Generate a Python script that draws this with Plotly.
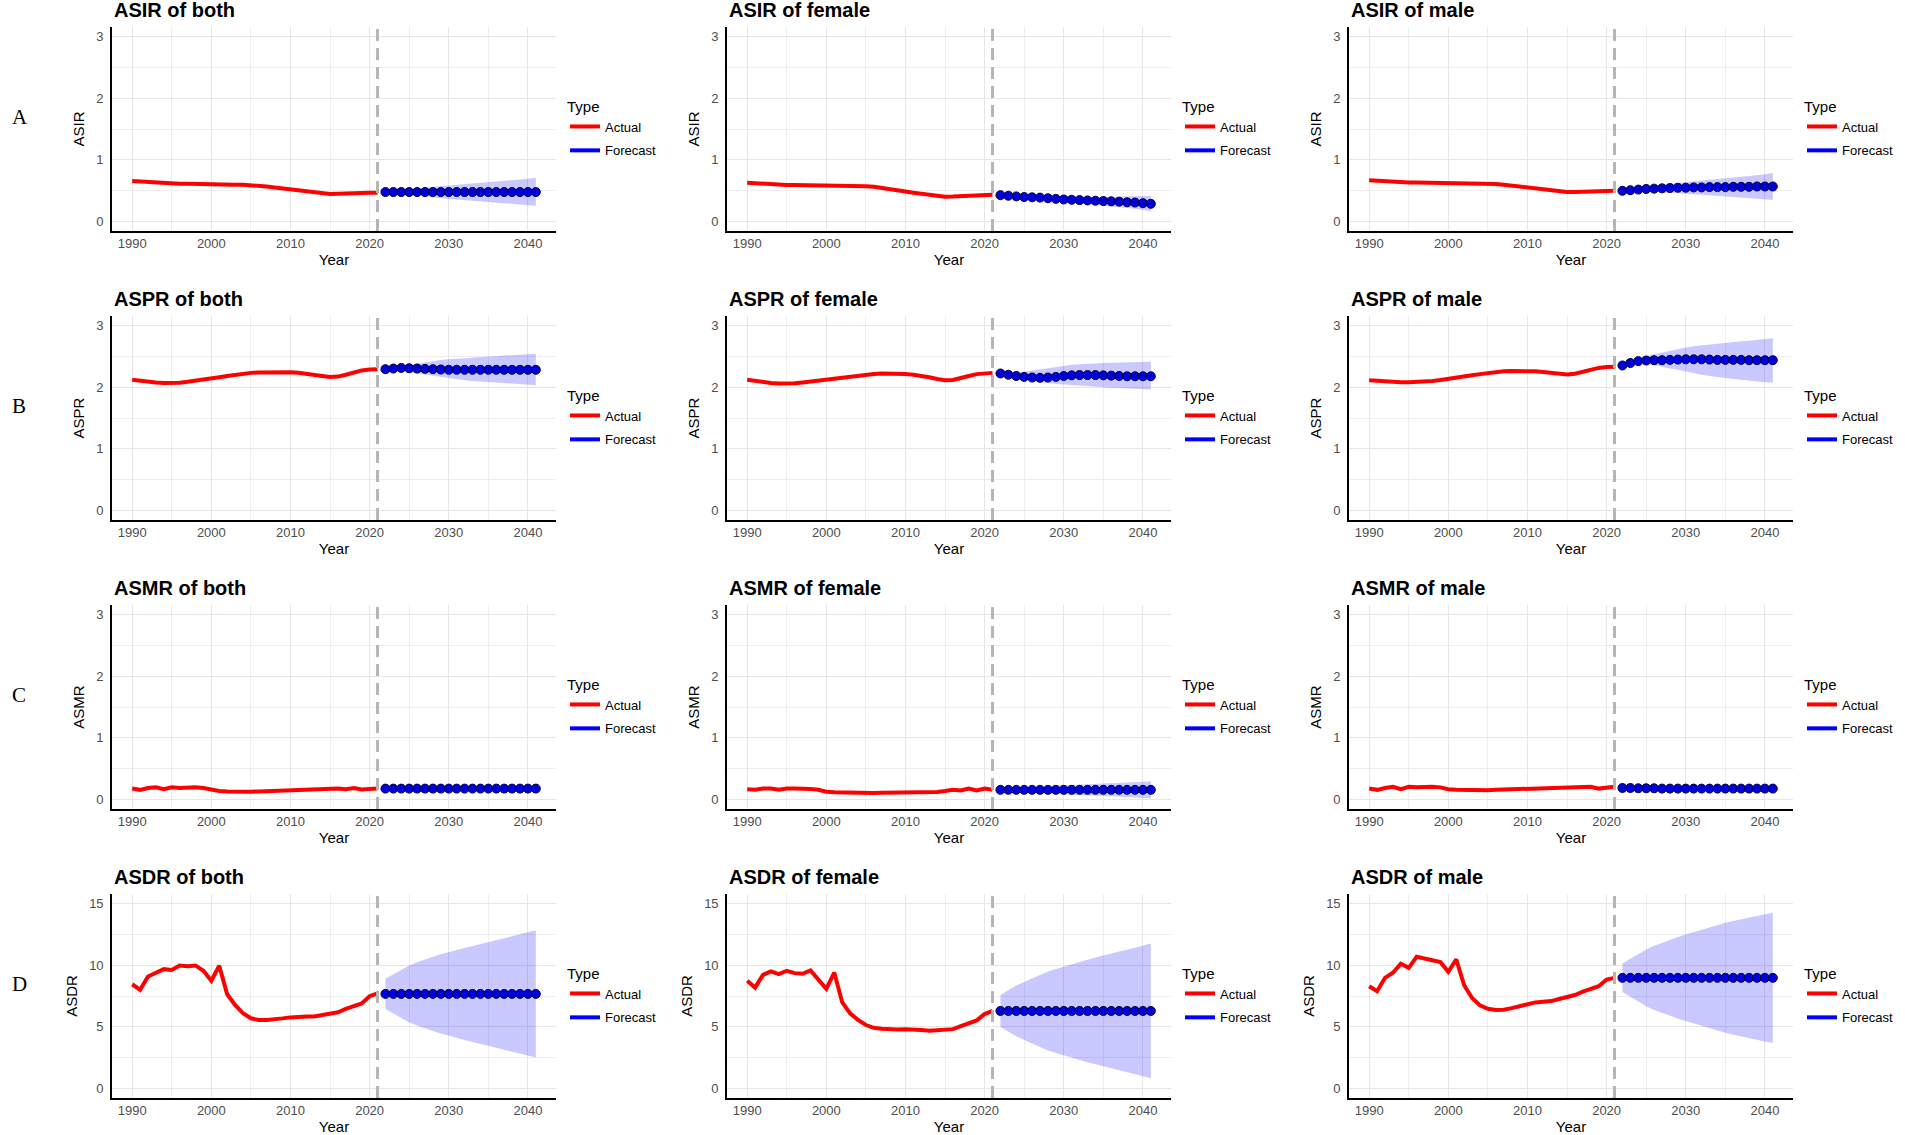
import plotly.graph_objects as go
from plotly.subplots import make_subplots

years_actual = list(range(1990, 2022))
years_forecast = list(range(2022, 2042))

# ---- ASIR ----
asir_both_actual = [0.66, 0.65, 0.64, 0.63, 0.625, 0.62, 0.615, 0.615, 0.61, 0.61,
                    0.61, 0.61, 0.605, 0.60, 0.60, 0.595, 0.585, 0.57, 0.555, 0.54,
                    0.525, 0.51, 0.49, 0.47, 0.455, 0.45, 0.452, 0.46, 0.465, 0.47,
                    0.47, 0.47]
asir_both_fc = [0.48] * 20
asir_both_up = [0.49, 0.50, 0.515, 0.53, 0.54, 0.555, 0.565, 0.575, 0.585, 0.595,
                0.605, 0.615, 0.625, 0.635, 0.645, 0.655, 0.665, 0.68, 0.695, 0.71]
asir_both_lo = [0.47, 0.455, 0.44, 0.425, 0.415, 0.40, 0.39, 0.38, 0.37, 0.36,
                0.35, 0.34, 0.33, 0.32, 0.31, 0.30, 0.29, 0.28, 0.27, 0.26]

asir_female_actual = [0.63, 0.62, 0.61, 0.605, 0.60, 0.595, 0.593, 0.592, 0.591, 0.59,
                      0.59, 0.588, 0.586, 0.583, 0.58, 0.575, 0.565, 0.55, 0.53, 0.51,
                      0.49, 0.47, 0.45, 0.43, 0.415, 0.405, 0.407, 0.415, 0.42, 0.425,
                      0.43, 0.435]
asir_female_fc = [0.43, 0.42, 0.41, 0.40, 0.395, 0.39, 0.38, 0.37, 0.36, 0.355,
                  0.35, 0.345, 0.34, 0.335, 0.33, 0.325, 0.315, 0.31, 0.30, 0.29]
asir_female_up = [0.44, 0.435, 0.43, 0.425, 0.42, 0.415, 0.41, 0.405, 0.40, 0.40,
                  0.395, 0.395, 0.395, 0.40, 0.40, 0.40, 0.405, 0.41, 0.415, 0.42]
asir_female_lo = [0.42, 0.405, 0.39, 0.375, 0.365, 0.355, 0.34, 0.33, 0.315, 0.305,
                  0.29, 0.28, 0.27, 0.26, 0.25, 0.24, 0.225, 0.21, 0.195, 0.17]

asir_male_actual = [0.67, 0.66, 0.65, 0.645, 0.64, 0.635, 0.633, 0.632, 0.631, 0.63,
                    0.63, 0.628, 0.626, 0.624, 0.622, 0.62, 0.61, 0.60, 0.585, 0.568,
                    0.55, 0.535, 0.52, 0.505, 0.49, 0.48, 0.482, 0.488, 0.493, 0.497,
                    0.50, 0.50]
asir_male_fc = [0.50, 0.51, 0.52, 0.53, 0.535, 0.54, 0.545, 0.55, 0.55, 0.555,
                0.555, 0.56, 0.56, 0.56, 0.565, 0.565, 0.565, 0.57, 0.57, 0.57]
asir_male_up = [0.51, 0.53, 0.55, 0.57, 0.585, 0.60, 0.615, 0.63, 0.64, 0.655,
                0.665, 0.68, 0.69, 0.70, 0.715, 0.725, 0.74, 0.75, 0.77, 0.79]
asir_male_lo = [0.49, 0.49, 0.49, 0.485, 0.48, 0.475, 0.47, 0.46, 0.455, 0.445,
                0.435, 0.43, 0.42, 0.41, 0.40, 0.39, 0.38, 0.37, 0.36, 0.35]

# ---- ASPR ----
aspr_both_actual = [2.12, 2.10, 2.085, 2.075, 2.068, 2.065, 2.07, 2.085, 2.10, 2.12,
                    2.14, 2.16, 2.18, 2.20, 2.215, 2.23, 2.237, 2.24, 2.242, 2.242,
                    2.24, 2.232, 2.22, 2.20, 2.18, 2.165, 2.17, 2.20, 2.24, 2.27,
                    2.285, 2.29]
aspr_both_fc = [2.29, 2.30, 2.31, 2.305, 2.30, 2.295, 2.29, 2.285, 2.28, 2.28,
                2.28, 2.28, 2.28, 2.28, 2.28, 2.28, 2.28, 2.28, 2.28, 2.28]
aspr_both_up = [2.30, 2.32, 2.35, 2.37, 2.39, 2.41, 2.425, 2.44, 2.45, 2.46,
                2.47, 2.48, 2.49, 2.495, 2.50, 2.51, 2.515, 2.52, 2.53, 2.54]
aspr_both_lo = [2.28, 2.275, 2.26, 2.24, 2.22, 2.20, 2.18, 2.16, 2.14, 2.12,
                2.11, 2.10, 2.09, 2.08, 2.075, 2.07, 2.06, 2.05, 2.04, 2.03]

aspr_female_actual = [2.12, 2.10, 2.08, 2.068, 2.06, 2.058, 2.062, 2.075, 2.09, 2.105,
                      2.12, 2.14, 2.16, 2.175, 2.19, 2.20, 2.21, 2.218, 2.22, 2.218,
                      2.21, 2.20, 2.185, 2.16, 2.13, 2.11, 2.115, 2.14, 2.18, 2.21,
                      2.225, 2.23]
aspr_female_fc = [2.22, 2.20, 2.18, 2.165, 2.155, 2.15, 2.155, 2.165, 2.18, 2.19,
                  2.195, 2.195, 2.195, 2.19, 2.185, 2.18, 2.175, 2.175, 2.175, 2.175]
aspr_female_up = [2.23, 2.23, 2.24, 2.25, 2.27, 2.29, 2.31, 2.33, 2.345, 2.36,
                  2.37, 2.38, 2.385, 2.39, 2.395, 2.40, 2.40, 2.405, 2.41, 2.41]
aspr_female_lo = [2.21, 2.18, 2.15, 2.12, 2.10, 2.08, 2.06, 2.05, 2.04, 2.03,
                  2.02, 2.01, 2.00, 1.995, 1.99, 1.985, 1.98, 1.975, 1.97, 1.96]

aspr_male_actual = [2.11, 2.10, 2.09, 2.083, 2.08, 2.08, 2.083, 2.09, 2.10, 2.115,
                    2.13, 2.15, 2.17, 2.19, 2.21, 2.23, 2.245, 2.255, 2.26, 2.262,
                    2.26, 2.255, 2.245, 2.23, 2.215, 2.205, 2.215, 2.25, 2.285, 2.31,
                    2.325, 2.33]
aspr_male_fc = [2.35, 2.39, 2.42, 2.43, 2.435, 2.435, 2.44, 2.445, 2.45, 2.45,
                2.45, 2.445, 2.44, 2.44, 2.44, 2.44, 2.435, 2.435, 2.435, 2.435]
aspr_male_up = [2.36, 2.41, 2.46, 2.50, 2.53, 2.56, 2.59, 2.62, 2.64, 2.66,
                2.675, 2.69, 2.70, 2.715, 2.73, 2.74, 2.75, 2.765, 2.78, 2.79]
aspr_male_lo = [2.34, 2.37, 2.39, 2.38, 2.35, 2.33, 2.30, 2.28, 2.25, 2.23,
                2.20, 2.18, 2.16, 2.15, 2.13, 2.12, 2.10, 2.09, 2.08, 2.07]

# ---- ASMR ----
asmr_both_actual = [0.18, 0.16, 0.19, 0.20, 0.17, 0.20, 0.19, 0.20, 0.20, 0.19,
                    0.16, 0.14, 0.135, 0.13, 0.13, 0.13, 0.135, 0.14, 0.14, 0.145,
                    0.145, 0.15, 0.15, 0.155, 0.16, 0.165, 0.18, 0.17, 0.19, 0.165,
                    0.18, 0.18]
asmr_both_fc = [0.18] * 20
asmr_both_up = [0.19, 0.19, 0.19, 0.195, 0.195, 0.195, 0.20, 0.20, 0.20, 0.20,
                0.205, 0.205, 0.205, 0.21, 0.21, 0.21, 0.21, 0.215, 0.215, 0.215]
asmr_both_lo = [0.17, 0.17, 0.17, 0.165, 0.165, 0.165, 0.16, 0.16, 0.16, 0.16,
                0.155, 0.155, 0.155, 0.15, 0.15, 0.15, 0.15, 0.145, 0.145, 0.145]

asmr_female_actual = [0.17, 0.16, 0.18, 0.18, 0.16, 0.18, 0.18, 0.18, 0.175, 0.16,
                      0.13, 0.12, 0.115, 0.11, 0.11, 0.11, 0.11, 0.112, 0.112, 0.113,
                      0.115, 0.115, 0.117, 0.12, 0.125, 0.14, 0.16, 0.15, 0.18, 0.15,
                      0.18, 0.16]
asmr_female_fc = [0.16] * 20
asmr_female_up = [0.17, 0.185, 0.195, 0.205, 0.21, 0.215, 0.22, 0.225, 0.235, 0.245,
                  0.25, 0.255, 0.26, 0.265, 0.27, 0.275, 0.28, 0.285, 0.29, 0.30]
asmr_female_lo = [0.15, 0.135, 0.125, 0.115, 0.11, 0.105, 0.10, 0.095, 0.085, 0.075,
                  0.07, 0.065, 0.06, 0.055, 0.05, 0.045, 0.04, 0.035, 0.03, 0.02]

asmr_male_actual = [0.18, 0.16, 0.19, 0.21, 0.17, 0.21, 0.20, 0.21, 0.21, 0.20,
                    0.17, 0.16, 0.155, 0.15, 0.15, 0.155, 0.16, 0.165, 0.17, 0.17,
                    0.175, 0.18, 0.185, 0.19, 0.195, 0.20, 0.21, 0.20, 0.21, 0.18,
                    0.19, 0.21]
asmr_male_fc = [0.19, 0.19, 0.185, 0.185, 0.185, 0.18, 0.18, 0.18, 0.18, 0.18,
                0.18, 0.18, 0.18, 0.18, 0.18, 0.18, 0.18, 0.18, 0.18, 0.18]
asmr_male_up = [0.195, 0.197, 0.195, 0.197, 0.199, 0.196, 0.198, 0.20, 0.201, 0.202,
                0.203, 0.204, 0.205, 0.206, 0.207, 0.207, 0.208, 0.209, 0.21, 0.21]
asmr_male_lo = [0.185, 0.183, 0.175, 0.173, 0.171, 0.164, 0.162, 0.16, 0.159, 0.158,
                0.157, 0.156, 0.155, 0.154, 0.153, 0.153, 0.152, 0.151, 0.15, 0.15]

# ---- ASDR ----
asdr_both_actual = [8.45, 8.0, 9.08, 9.4, 9.67, 9.6, 9.97, 9.9, 9.97, 9.54,
                    8.73, 9.95, 7.64, 6.78, 6.1, 5.7, 5.56, 5.56, 5.6, 5.69,
                    5.77, 5.83, 5.85, 5.85, 5.96, 6.04, 6.18, 6.45, 6.67, 6.9,
                    7.48, 7.72]
asdr_both_fc = [7.67] * 20
asdr_both_up = [8.90, 9.27, 9.62, 9.97, 10.22, 10.47, 10.67, 10.87, 11.02, 11.22,
                11.39, 11.55, 11.72, 11.87, 12.02, 12.17, 12.32, 12.47, 12.62, 12.82]
asdr_both_lo = [6.44, 6.07, 5.72, 5.37, 5.12, 4.87, 4.67, 4.47, 4.32, 4.12,
                3.95, 3.79, 3.62, 3.47, 3.32, 3.17, 3.02, 2.87, 2.72, 2.52]

asdr_female_actual = [8.73, 8.18, 9.21, 9.49, 9.27, 9.54, 9.35, 9.3, 9.57, 8.8,
                      8.08, 9.4, 7.0, 6.1, 5.56, 5.15, 4.93, 4.85, 4.8, 4.8,
                      4.82, 4.82, 4.74, 4.69, 4.74, 4.74, 4.82, 5.07, 5.28, 5.53,
                      6.04, 6.29]
asdr_female_fc = [6.29] * 20
asdr_female_up = [7.59, 7.99, 8.34, 8.64, 8.94, 9.24, 9.49, 9.69, 9.89, 10.09,
                  10.27, 10.44, 10.61, 10.79, 10.94, 11.09, 11.24, 11.39, 11.59, 11.74]
asdr_female_lo = [4.99, 4.59, 4.24, 3.94, 3.64, 3.34, 3.09, 2.89, 2.69, 2.49,
                  2.31, 2.14, 1.97, 1.79, 1.64, 1.49, 1.34, 1.19, 0.99, 0.84]

asdr_male_actual = [8.29, 7.88, 8.97, 9.38, 10.11, 9.78, 10.68, 10.54, 10.46, 10.24,
                    9.46, 10.46, 8.37, 7.34, 6.74, 6.47, 6.36, 6.39, 6.52, 6.68,
                    6.87, 6.98, 7.04, 7.09, 7.26, 7.42, 7.58, 7.85, 8.07, 8.29,
                    8.83, 8.97]
asdr_male_fc = [8.97] * 20
asdr_male_up = [10.12, 10.52, 10.92, 11.27, 11.57, 11.82, 12.07, 12.27, 12.47, 12.67,
                12.85, 13.02, 13.22, 13.42, 13.57, 13.72, 13.87, 13.97, 14.12, 14.24]
asdr_male_lo = [7.82, 7.42, 7.02, 6.67, 6.37, 6.12, 5.87, 5.67, 5.47, 5.27,
                5.09, 4.92, 4.72, 4.52, 4.37, 4.22, 4.07, 3.97, 3.82, 3.70]

measures = ["ASIR", "ASPR", "ASMR", "ASDR"]
row_letters = ["A", "B", "C", "D"]
sexes = ["both", "female", "male"]

series = {
    ("ASIR", "both"): (asir_both_actual, asir_both_fc, asir_both_lo, asir_both_up),
    ("ASIR", "female"): (asir_female_actual, asir_female_fc, asir_female_lo, asir_female_up),
    ("ASIR", "male"): (asir_male_actual, asir_male_fc, asir_male_lo, asir_male_up),
    ("ASPR", "both"): (aspr_both_actual, aspr_both_fc, aspr_both_lo, aspr_both_up),
    ("ASPR", "female"): (aspr_female_actual, aspr_female_fc, aspr_female_lo, aspr_female_up),
    ("ASPR", "male"): (aspr_male_actual, aspr_male_fc, aspr_male_lo, aspr_male_up),
    ("ASMR", "both"): (asmr_both_actual, asmr_both_fc, asmr_both_lo, asmr_both_up),
    ("ASMR", "female"): (asmr_female_actual, asmr_female_fc, asmr_female_lo, asmr_female_up),
    ("ASMR", "male"): (asmr_male_actual, asmr_male_fc, asmr_male_lo, asmr_male_up),
    ("ASDR", "both"): (asdr_both_actual, asdr_both_fc, asdr_both_lo, asdr_both_up),
    ("ASDR", "female"): (asdr_female_actual, asdr_female_fc, asdr_female_lo, asdr_female_up),
    ("ASDR", "male"): (asdr_male_actual, asdr_male_fc, asdr_male_lo, asdr_male_up),
}

W, H = 1905, 1135
FONT = "Liberation Sans, Arial, sans-serif"
col_left = [112, 727, 1349]   # plot left edges in px
plot_w = 444
row_top = [27, 316, 605, 894]  # plot top edges in px
plot_h = 204

fig = make_subplots(rows=4, cols=3)

for r, meas in enumerate(measures):
    for c, sex in enumerate(sexes):
        i = r * 3 + c + 1
        actual, fc, lo, up = series[(meas, sex)]
        leg = "legend" if i == 1 else f"legend{i}"

        # confidence ribbon
        fig.add_trace(go.Scatter(x=years_forecast, y=lo, mode="lines",
                                 line=dict(width=0), showlegend=False,
                                 legend=leg, hoverinfo="skip"), row=r + 1, col=c + 1)
        fig.add_trace(go.Scatter(x=years_forecast, y=up, mode="lines",
                                 line=dict(width=0), fill="tonexty",
                                 fillcolor="rgba(0,0,255,0.21)", showlegend=False,
                                 legend=leg, hoverinfo="skip"), row=r + 1, col=c + 1)
        # actual
        fig.add_trace(go.Scatter(x=years_actual, y=actual, mode="lines",
                                 line=dict(color="red", width=4),
                                 name="Actual", legend=leg, showlegend=False),
                      row=r + 1, col=c + 1)
        # forecast
        fig.add_trace(go.Scatter(x=years_forecast, y=fc, mode="lines+markers",
                                 line=dict(color="blue", width=2),
                                 marker=dict(size=9, color="#0000dd",
                                             line=dict(color="#000040", width=1)),
                                 name="Forecast", legend=leg, showlegend=False),
                      row=r + 1, col=c + 1)
        # legend keys (line only, as in the original legend)
        fig.add_trace(go.Scatter(x=[None], y=[None], mode="lines",
                                 line=dict(color="red", width=4),
                                 name="Actual", legend=leg, legendgroup="a"),
                      row=r + 1, col=c + 1)
        fig.add_trace(go.Scatter(x=[None], y=[None], mode="lines",
                                 line=dict(color="blue", width=4),
                                 name="Forecast", legend=leg, legendgroup="f"),
                      row=r + 1, col=c + 1)

        x0 = col_left[c] / W
        x1 = (col_left[c] + plot_w) / W
        y1 = 1 - row_top[r] / H
        y0 = 1 - (row_top[r] + plot_h) / H
        xa = "xaxis" if i == 1 else f"xaxis{i}"
        ya = "yaxis" if i == 1 else f"yaxis{i}"
        ymax = 15 if meas == "ASDR" else 3
        ydt = 5 if meas == "ASDR" else 1

        fig.layout[xa].update(
            domain=[x0, x1], range=[1987.45, 2043.55],
            tick0=1990, dtick=10, showgrid=True, gridcolor="#e6e6e6", gridwidth=1.3,
            minor=dict(dtick=5, tick0=1990, showgrid=True, gridcolor="#eeeeee",
                       gridwidth=0.8),
            showline=True, linecolor="black", linewidth=1.6, zeroline=False,
            tickfont=dict(family=FONT, size=13, color="#4d4d4d"),
            title=dict(text="Year", standoff=4,
                       font=dict(family=FONT, size=15, color="black")),
        )
        fig.layout[ya].update(
            domain=[y0, y1], range=[-0.05 * ymax, 1.05 * ymax],
            tick0=0, dtick=ydt, showgrid=True, gridcolor="#e6e6e6", gridwidth=1.3,
            minor=dict(dtick=ydt / 2, tick0=0, showgrid=True, gridcolor="#eeeeee",
                       gridwidth=0.8),
            showline=True, linecolor="black", linewidth=1.6, zeroline=False,
            tickfont=dict(family=FONT, size=13, color="#4d4d4d"),
            ticklabelstandoff=4,
            title=dict(text=meas, standoff=8,
                       font=dict(family=FONT, size=15, color="black")),
        )

        # vertical dashed line at the last observed year
        xr = "x" if i == 1 else f"x{i}"
        yr = "y" if i == 1 else f"y{i}"
        fig.add_shape(type="line", x0=2021, x1=2021, y0=0, y1=1,
                      xref=xr, yref=f"{yr} domain",
                      line=dict(color="#b5b5b5", width=3, dash="12px,7px"))

        # panel title
        fig.add_annotation(text=f"<b>{meas} of {sex}</b>", x=0, y=1,
                           xref=f"{xr} domain", yref=f"{yr} domain",
                           xanchor="left", yanchor="middle", yshift=17,
                           showarrow=False,
                           font=dict(family=FONT, size=20, color="black"))

        fig.layout[leg] = dict(
            x=(col_left[c] + plot_w + 9) / W, y=1 - (row_top[r] + 65) / H,
            xanchor="left", yanchor="top", bgcolor="rgba(0,0,0,0)",
            traceorder="grouped", tracegroupgap=4,
            title=dict(text="Type", font=dict(family=FONT, size=15, color="black")),
            font=dict(family=FONT, size=13, color="black"),
            itemwidth=30,
        )

    fig.add_annotation(text=row_letters[r], x=10 / W, y=1 - (row_top[r] + 90) / H,
                       xref="paper", yref="paper", xanchor="left", yanchor="middle",
                       showarrow=False,
                       font=dict(family="Liberation Serif, Times New Roman, serif",
                                 size=21, color="black"))

fig.update_layout(
    width=W, height=H,
    margin=dict(l=0, r=0, t=0, b=0),
    plot_bgcolor="white", paper_bgcolor="white",
    font=dict(family=FONT),
)

fig.write_html("out.html", config={"displayModeBar": False},
               post_script="document.body.style.margin='0';")
